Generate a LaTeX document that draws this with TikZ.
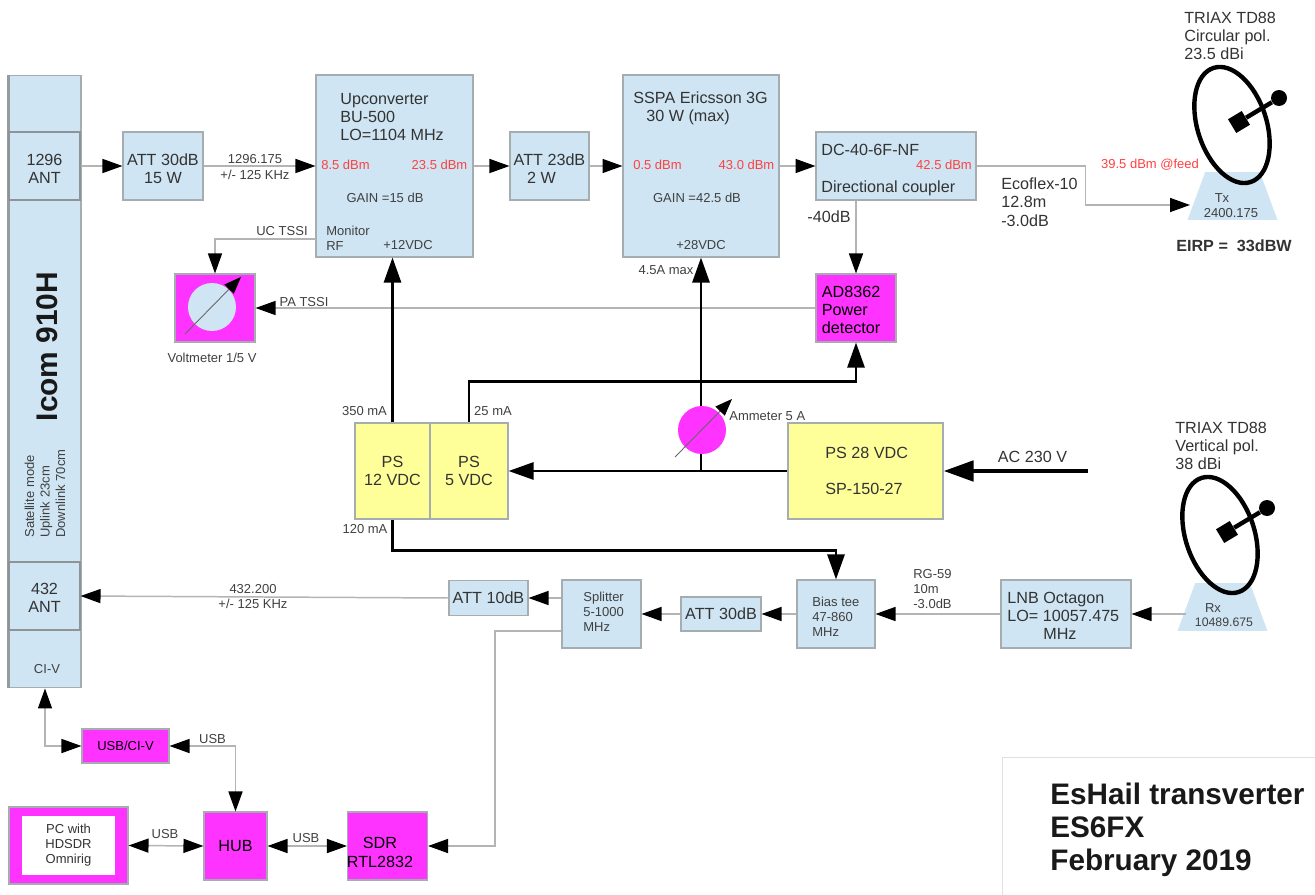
\documentclass[tikz,border=0pt]{standalone}
\usepackage{fontspec}
\setmainfont{Liberation Sans}
\usetikzlibrary{positioning, arrows.meta, shapes.geometric}

\definecolor{boxblue}{HTML}{CFE5F3}
\definecolor{psyellow}{HTML}{FFFF99}
\definecolor{meterpink}{HTML}{FF33FF}
\definecolor{edgegray}{HTML}{A6ADB0}
\definecolor{linegray}{HTML}{B4B4B4}
\definecolor{levelred}{HTML}{FF4040}

\newcommand{\fontL}{\fontsize{9.2}{10.4}\selectfont}
\newcommand{\fontM}{\fontsize{7.4}{8.6}\selectfont}

\begin{document}
\begin{tikzpicture}[
    x=0.02cm, y=-0.02cm,
    block/.style = {
        rectangle, draw=edgegray, fill=boxblue, line width=0.6pt, inner sep=0pt,
        align=center, font=\fontL, text=black!80
    },
    twoline/.style = {text height=20.4pt},
    psbox/.style = {block, fill=psyellow},
    pinkbox/.style = {block, fill=meterpink, text=black},
    txtL/.style = {font=\fontL, text=black!80, align=left, inner sep=0pt},
    txtM/.style = {font=\fontM, text=black!75, align=center, inner sep=0pt},
    level/.style = {font=\fontM, text=levelred, inner sep=0pt},
    sig/.style = {
        -{Triangle[length=4mm, width=2.8mm, color=black]},
        line width=0.85pt, draw=linegray
    },
    sigboth/.style = {
        {Triangle[length=4mm, width=2.8mm, color=black]}-{Triangle[length=4mm, width=2.8mm, color=black]},
        line width=0.85pt, draw=linegray
    },
    pwr/.style = {
        -{Triangle[length=5mm, width=3.4mm]}, line width=1.5pt, draw=black
    },
    needle/.style = {
        -{Triangle[length=3.4mm, width=2.6mm, color=black]}, line width=0.5pt, draw=black!60
    },
    dish/.style = {
        ellipse, draw=black, line width=2.5pt, inner sep=0pt, rotate=18,
        minimum width=1.38cm, minimum height=2.4cm
    },
    feed/.style = {rectangle, fill=black, inner sep=0pt, minimum size=0.32cm, rotate=31},
    ball/.style = {circle, fill=black, inner sep=0pt, minimum size=0.32cm},
    stand/.style = {
        trapezium, fill=boxblue, inner sep=1pt, trapezium left angle=72, trapezium right angle=72,
        trapezium stretches=true, minimum width=1.8cm, minimum height=0.96cm
    }
]
\useasboundingbox (0,0) rectangle (1315,895);

% ---- Icom ----
\node[block, minimum width=1.44cm, minimum height=12.26cm] (icom) at (45,381.5) {};
\draw[draw=edgegray!90!black, line width=1.4pt] (icom.north west) -- (icom.south west);
\node[block, twoline, draw=edgegray!85!black, minimum width=1.42cm, minimum height=1.36cm] (ant1296) at (44.5,166) {1296\\ANT};
\node[block, draw=edgegray!85!black, text height=19pt, minimum width=1.42cm, minimum height=1.36cm] (ant432) at (44.5,596) {432\\ANT};
\node[rotate=90, font=\fontsize{17}{20}\selectfont\bfseries, text=black!90, inner sep=0pt] (icomname) at (47,346.5) {Icom 910H};
\node[rotate=90, font=\fontsize{7.4}{8.8}\selectfont, text=black!75, align=left, inner sep=0pt, anchor=west] (icommode) at (45,538) {Satellite mode\\Uplink 23cm\\Downlink 70cm};
\node[txtM] (civ) at (47,669) {CI-V};

% ---- TX chain ----
\node[block, twoline, minimum width=1.6cm, minimum height=1.36cm] (att30a) at (163,166) {ATT 30dB\\15 W};
\node[txtM] (f1296) at (255,167) {1296.175\\+/- 125 KHz};
\node[block, minimum width=3.14cm, minimum height=3.64cm] (upconv) at (394.5,166) {};
\node[txtL, anchor=west] (upname) at (340,117) {Upconverter\\BU-500\\LO=1104 MHz};
\node[level] (uplvlin) at (345.5,165) {8.5 dBm};
\node[level] (uplvlout) at (439.5,165) {23.5 dBm};
\node[txtM] (upgain) at (385,197.5) {GAIN =15 dB};
\node[txtM, align=left, anchor=west] (upmon) at (326,238) {Monitor\\RF};
\node[txtM] (up12v) at (408,245) {+12VDC};
\node[txtM] (uctssi) at (282,231) {UC TSSI};
\node[txtM] (patssi) at (304,302) {PA TSSI};

\node[block, twoline, minimum width=1.58cm, minimum height=1.36cm] (att23) at (549.5,166) {ATT 23dB\\2 W\hspace*{3.2mm}};
\node[block, minimum width=3.12cm, minimum height=3.64cm] (sspa) at (701,166) {};
\node[txtL, anchor=west] (sspaname) at (633,108) {SSPA Ericsson 3G\\\hspace*{2.6mm}30 W (max)};
\node[level] (sspain) at (657.5,165) {0.5 dBm};
\node[level] (sspaout) at (746.5,165) {43.0 dBm};
\node[txtM] (sspagain) at (697,198) {GAIN =42.5 dB};
\node[txtM] (sspa28) at (701,245) {+28VDC};
\node[txtM] (sspamax) at (666,270) {4.5A max};

\node[block, minimum width=3.2cm, minimum height=1.36cm] (coupler) at (896,166) {};
\node[txtL, anchor=west] (cplname) at (821,150) {DC-40-6F-NF};
\node[txtL, anchor=west] (cpltype) at (821,188) {Directional coupler};
\node[level] (cplout) at (944,165) {42.5 dBm};
\node[txtL] (cpl40) at (829,217) {-40dB};

\node[pinkbox, minimum width=1.6cm, minimum height=1.36cm] (detector) at (856,308) {};
\node[txtL, text=black, anchor=west] (detname) at (821.5,310) {AD8362\\Power\\detector};

\node[pinkbox, minimum width=1.6cm, minimum height=1.36cm] (volt) at (215,308) {};
\node[circle, fill=boxblue, inner sep=0pt, minimum size=0.96cm] (voltdial) at (212,307) {};
\coordinate (voltlow) at (185,334);
\coordinate (volthigh) at (241,277);
\draw[needle] (voltlow) -- (volthigh);
\node[txtM] (voltname) at (212,358) {Voltmeter 1/5 V};

% ---- antennas ----
\node[stand] (txstand) at (1232.5,196) {};
\node[txtM] (txname) at (1222,198) {Tx};
\node[txtM] (txfreq) at (1231,213) {2400.175};
\node[dish] (txdish) at (1232,125) {};
\node[feed] (txfeed) at (1239,122) {};
\node[ball] (txball) at (1279,98) {};
\draw[line width=2.5pt] (txfeed) -- (txball);
\coordinate (txin) at (1190,205);
\node[txtL, anchor=west] (txant) at (1184,36) {TRIAX TD88\\Circular pol.\\23.5 dBi};
\node[level] (feedlvl) at (1150,165) {39.5 dBm @feed};
\node[txtL, anchor=west] (coax) at (1001,202) {Ecoflex-10\\12.8m\\-3.0dB};
\node[txtL, font=\fontL\bfseries] (eirp) at (1234,246) {EIRP =~ 33dBW};

\node[stand] (rxstand) at (1222.5,607) {};
\node[txtM] (rxname) at (1213,608) {Rx};
\node[txtM, font=\fontsize{7}{8}\selectfont] (rxfreq) at (1224,622) {10489.675};
\node[dish] (rxdish) at (1220,535) {};
\node[feed] (rxfeed) at (1227,532) {};
\node[ball] (rxball) at (1267,508) {};
\draw[line width=2.5pt] (rxfeed) -- (rxball);
\node[txtL, anchor=west] (rxant) at (1175,446) {TRIAX TD88\\Vertical pol.\\38 dBi};

% ---- power supplies ----
\node[psbox, minimum width=1.5cm, minimum height=1.92cm] (ps12) at (392.5,471) {PS\\12 VDC};
\node[psbox, minimum width=1.56cm, minimum height=1.92cm] (ps5) at (469,471) {PS\\5 VDC};
\node[psbox, minimum width=3.1cm, minimum height=1.92cm] (ps28) at (865.5,471) {};
\node[txtL, anchor=west] (ps28name) at (825,453) {PS 28 VDC};
\node[txtL, anchor=west] (ps28type) at (825,489) {SP-150-27};
\coordinate (acin) at (1088,471);
\node[txtL] (aclabel) at (1032.5,457) {AC 230 V};
\node[txtM] (i350) at (364.5,411) {350 mA};
\node[txtM] (i25) at (493,411) {25 mA};
\node[txtM] (i120) at (365,529) {120 mA};

% ---- RX chain ----
\node[block, minimum width=2.6cm, minimum height=1.36cm] (lnb) at (1066,614) {};
\node[txtL, anchor=west] (lnbname) at (1007,616) {LNB Octagon\\LO= 10057.475\\\hspace*{7.2mm}MHz};
\node[txtM, align=left, anchor=west] (rg59) at (913,589) {RG-59\\10m\\-3.0dB};
\node[block, minimum width=1.56cm, minimum height=1.36cm] (biastee) at (836,614) {};
\node[txtM, align=left, anchor=west] (biasname) at (812,617) {Bias tee\\47-860\\MHz};
\node[block, minimum width=1.6cm, minimum height=0.68cm] (att30b) at (721,614) {ATT 30dB};
\node[block, minimum width=1.58cm, minimum height=1.36cm] (split) at (601.5,614) {};
\node[txtM, align=left, anchor=west] (splitname) at (583,612) {Splitter\\5-1000\\MHz};
\node[block, minimum width=1.58cm, minimum height=0.7cm] (att10) at (488.5,598) {ATT 10dB};
\node[txtM] (f432) at (253,596.5) {432.200\\+/- 125 KHz};

% ---- PC side ----
\node[pinkbox, minimum width=1.74cm, minimum height=0.68cm, font=\fontM] (usbciv) at (125.5,746) {USB/CI-V};
\node[pinkbox, minimum width=1.26cm, minimum height=1.36cm] (hub) at (235.5,846) {HUB};
\node[pinkbox, minimum width=1.6cm, minimum height=1.36cm] (sdr) at (387.5,846) {};
\node[txtL, text=black, align=center] (sdrname) at (380,852.5) {SDR\\RTL2832};
\node[pinkbox, minimum width=2.38cm, minimum height=1.54cm] (pc) at (68.5,845.5) {};
\node[block, draw=none, fill=white, minimum width=1.86cm, minimum height=1.18cm, font=\fontM] (pcname) at (68.5,845.5) {PC with\\HDSDR\\Omnirig};
\node[txtM] (usb1) at (212.5,739) {USB};
\node[txtM] (usb2) at (165,834) {USB};
\node[txtM] (usb3) at (306,838) {USB};

% ---- title ----
\node[rectangle, draw=black!12, fill=white, minimum width=6.26cm, minimum height=2.76cm] (titlebox) at (1158.5,826) {};
\node[font=\fontsize{16.9}{18.8}\selectfont\bfseries, text=black!90, align=left, inner sep=0pt, anchor=west] (title) at (1050,829.5) {EsHail transverter\\ES6FX\\February 2019};

% ---- signal connectors ----
\draw[sig] (ant1296.east) -- (att30a.west);
\draw[sig] (att30a.east) -- (upconv.west);
\draw[sig] (upconv.east) -- (att23.west);
\draw[sig] (att23.east) -- (sspa.west);
\draw[sig] (sspa.east) -- (coupler.west);
\draw[sig] (coupler.east) -- ++(109,0) |- (txin);
\coordinate (uctap) at (316,239);
\draw[sig] (uctap) -| (volt.north);
\draw[sig] (detector.west) -- (volt.east);
\draw[sig] (coupler.south -| detector.north) -- (detector.north);
\draw[sig] (rxstand.west |- lnb.east) -- (lnb.east);
\draw[sig] (lnb.west) -- (biastee.east);
\draw[sig] (biastee.west) -- (att30b.east);
\draw[sig] (att30b.west) -- (split.east);
\draw[sig] (split.west |- att10.east) -- (att10.east);
\draw[sig] (att10.west) -- (ant432.east);
\coordinate (sdrtap) at (561,631);
\draw[sig] (sdrtap) -- ++(-66,0) |- (sdr.east);
\draw[sigboth] (icom.south) |- (usbciv.west);
\draw[sigboth] (usbciv.east) -| (hub.north);
\draw[sigboth] (hub.west) -- (pc.east);
\draw[sigboth] (hub.east) -- (sdr.west);

% ---- power connectors ----
\draw[pwr] (ps12.north) -- (ps12.north |- upconv.south);
\draw[pwr] (ps5.north) -- ++(0,-41) -| (detector.south);
\draw[pwr] (ps28.west) -- (ps5.east);
\coordinate (sspafeed) at (sspa.south |- ps28.west);
\draw[pwr] (sspafeed) -- (sspa.south);
\draw[pwr] (ps12.south) -- ++(0,31) -| (biastee.north);
\draw[-{Triangle[length=6mm, width=4mm]}, line width=2.7pt] (acin) -- (ps28.east);

% ---- ammeter ----
\node[circle, fill=meterpink, inner sep=0pt, minimum size=0.96cm] (ammeter) at (702,430) {};
\coordinate (amplow) at (675,457);
\coordinate (amphigh) at (732,399);
\draw[needle] (amplow) -- (amphigh);
\node[txtM, anchor=west] (ampname) at (729,416) {Ammeter 5 A};

\end{tikzpicture}
\end{document}
